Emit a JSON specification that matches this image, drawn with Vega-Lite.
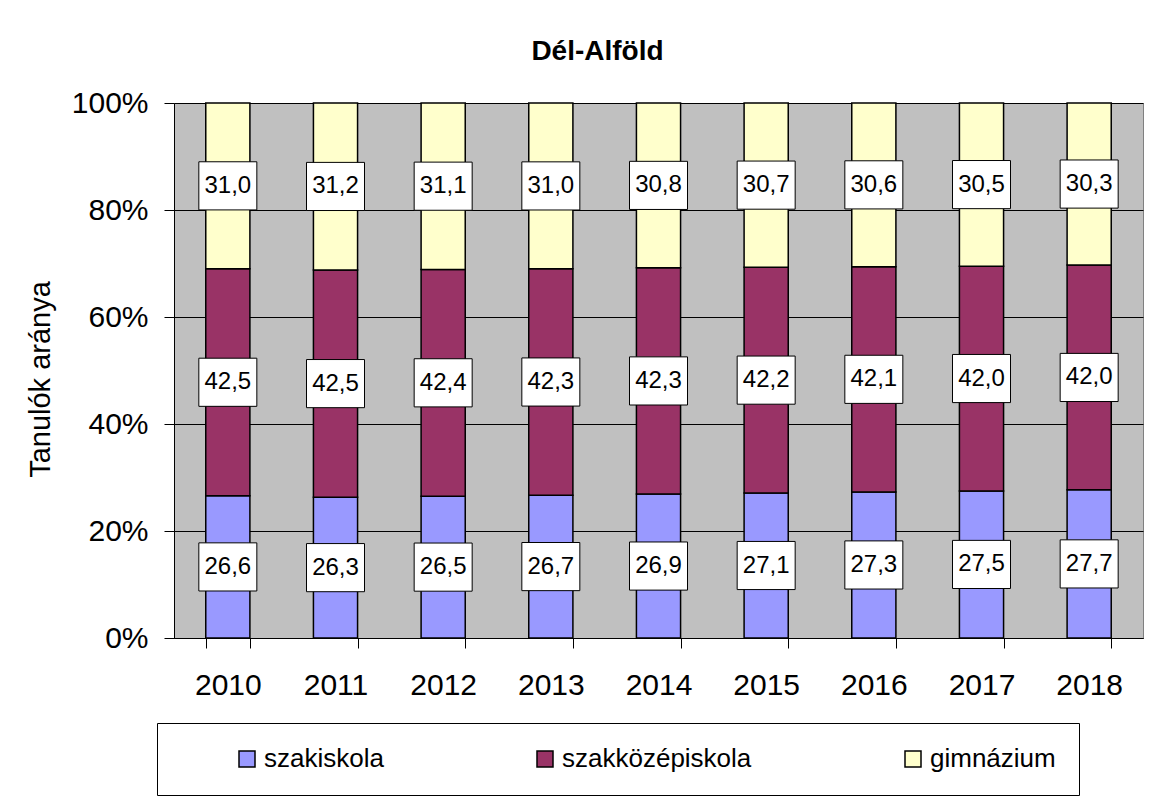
{
  "$schema": "https://vega.github.io/schema/vega-lite/v6.json",
  "width": 969,
  "height": 535,
  "autosize": {"type": "none"},
  "padding": {"left": 174, "top": 103, "right": 29, "bottom": 158},
  "background": "white",
  "title": {"text": "Dél-Alföld", "fontSize": 28, "fontWeight": "bold", "font": "Liberation Sans", "color": "black", "anchor": "middle", "frame": "group", "offset": 22, "dx": -61},
  "data": {"values": [
    {"year": "2010", "type": "szakiskola", "value": 26.6},
    {"year": "2010", "type": "szakközépiskola", "value": 42.5},
    {"year": "2010", "type": "gimnázium", "value": 31.0},
    {"year": "2011", "type": "szakiskola", "value": 26.3},
    {"year": "2011", "type": "szakközépiskola", "value": 42.5},
    {"year": "2011", "type": "gimnázium", "value": 31.2},
    {"year": "2012", "type": "szakiskola", "value": 26.5},
    {"year": "2012", "type": "szakközépiskola", "value": 42.4},
    {"year": "2012", "type": "gimnázium", "value": 31.1},
    {"year": "2013", "type": "szakiskola", "value": 26.7},
    {"year": "2013", "type": "szakközépiskola", "value": 42.3},
    {"year": "2013", "type": "gimnázium", "value": 31.0},
    {"year": "2014", "type": "szakiskola", "value": 26.9},
    {"year": "2014", "type": "szakközépiskola", "value": 42.3},
    {"year": "2014", "type": "gimnázium", "value": 30.8},
    {"year": "2015", "type": "szakiskola", "value": 27.1},
    {"year": "2015", "type": "szakközépiskola", "value": 42.2},
    {"year": "2015", "type": "gimnázium", "value": 30.7},
    {"year": "2016", "type": "szakiskola", "value": 27.3},
    {"year": "2016", "type": "szakközépiskola", "value": 42.1},
    {"year": "2016", "type": "gimnázium", "value": 30.6},
    {"year": "2017", "type": "szakiskola", "value": 27.5},
    {"year": "2017", "type": "szakközépiskola", "value": 42.0},
    {"year": "2017", "type": "gimnázium", "value": 30.5},
    {"year": "2018", "type": "szakiskola", "value": 27.7},
    {"year": "2018", "type": "szakközépiskola", "value": 42.0},
    {"year": "2018", "type": "gimnázium", "value": 30.3}
  ]},
  "transform": [
    {"calculate": "indexof(['szakiskola','szakközépiskola','gimnázium'], datum.type)", "as": "ord"},
    {"stack": "value", "groupby": ["year"], "sort": [{"field": "ord", "order": "ascending"}], "offset": "normalize", "as": ["v0", "v1"]},
    {"calculate": "(datum.v0 + datum.v1) / 2", "as": "mid"}
  ],
  "encoding": {
    "x": {
      "field": "year", "type": "ordinal",
      "scale": {"paddingInner": 0.59, "paddingOuter": 0.295},
      "axis": {"title": null, "labelAngle": 0, "tickBand": "extent", "tickSize": 10, "tickColor": "black", "tickWidth": 1, "domainColor": "black", "domainWidth": 1, "labelFontSize": 30, "labelPadding": 22, "labelColor": "black", "grid": false}
    }
  },
  "layer": [
    {
      "mark": {"type": "bar", "stroke": "black", "strokeWidth": 1.5},
      "encoding": {
        "y": {
          "field": "v0", "type": "quantitative", "title": "Tanulók aránya",
          "scale": {"domain": [0, 1]},
          "axis": {"values": [0, 0.2, 0.4, 0.6, 0.8, 1], "format": "%", "tickSize": 10, "tickColor": "black", "domainColor": "black", "labelFontSize": 30, "labelPadding": 16, "labelColor": "black", "grid": true, "gridColor": "black", "gridWidth": 1, "gridOpacity": 1, "titleFontSize": 29, "titleFontWeight": "normal", "titleColor": "black", "titlePadding": 16, "titleY": 276}
        },
        "y2": {"field": "v1"},
        "color": {
          "field": "type", "type": "nominal",
          "scale": {"domain": ["szakiskola", "szakközépiskola", "gimnázium"], "range": ["#9999FF", "#993366", "#FFFFCC"]},
          "legend": {"orient": "none", "legendX": -17, "legendY": 620, "direction": "horizontal", "title": " ", "titleOrient": "left", "titleFontSize": 1, "titlePadding": 54, "padding": 23, "strokeColor": "black", "fillColor": "white", "columnPadding": 148, "labelOffset": 4, "labelFontSize": 26, "labelColor": "black", "labelLimit": 400, "symbolType": "square", "symbolSize": 256, "symbolStrokeColor": "black", "symbolStrokeWidth": 1.5}
        }
      }
    },
    {
      "mark": {"type": "point", "shape": "M-1,-0.83L1,-0.83L1,0.83L-1,0.83Z", "size": 3364, "filled": true, "fill": "white", "stroke": "black", "strokeWidth": 1, "opacity": 1, "fillOpacity": 1},
      "encoding": {"y": {"field": "mid", "type": "quantitative", "title": "Tanulók aránya"}}
    },
    {
      "mark": {"type": "text", "fontSize": 24, "baseline": "middle", "align": "center", "color": "black"},
      "encoding": {
        "y": {"field": "mid", "type": "quantitative", "title": "Tanulók aránya"},
        "text": {"field": "value", "type": "quantitative", "format": ".1f"}
      }
    }
  ],
  "config": {
    "font": "Liberation Sans",
    "locale": {"number": {"decimal": ",", "thousands": " ", "grouping": [3], "currency": ["", " Ft"]}},
    "view": {"fill": "#C0C0C0", "stroke": "#808080", "strokeWidth": 1},
    "legend": {"strokeWidth": 1}
  }
}
